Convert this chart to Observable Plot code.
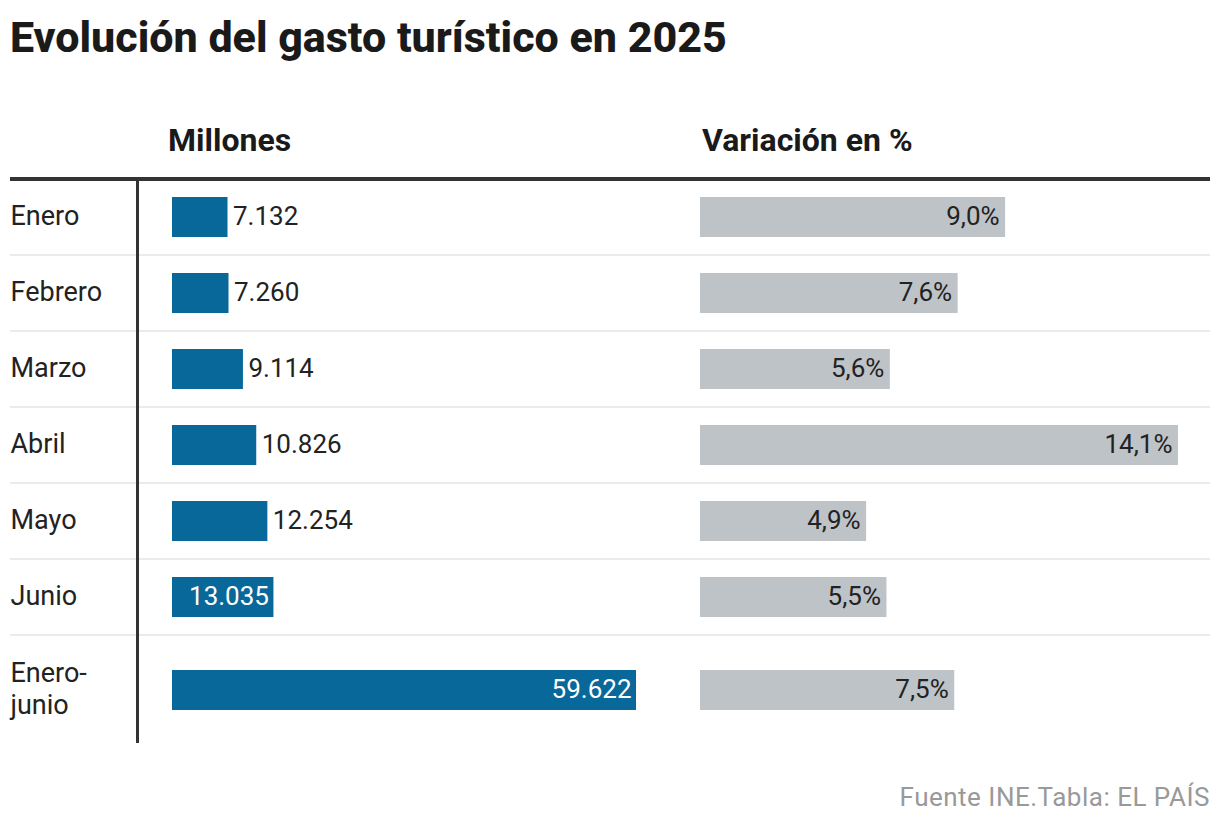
<!DOCTYPE html>
<html>
<head>
<meta charset="utf-8">
<script src="https://cdn.jsdelivr.net/npm/d3@7"></script>
<script src="https://cdn.jsdelivr.net/npm/@observablehq/plot@0.6"></script>
<style>
  body { margin: 0; background: #fff; font-family: Roboto, "Noto Sans", sans-serif; }
  #wrap { position: relative; width: 1220px; height: 828px; overflow: hidden; background: #fff; }
  .title { position: absolute; left: 10px; top: 16px; font-size: 43px; line-height: 43px; font-weight: 800; color: #1a1a1a; white-space: nowrap; }
  .head { position: absolute; top: 124px; font-size: 32px; line-height: 32px; font-weight: 700; color: #1a1a1a; white-space: nowrap; }
  .source { position: absolute; right: 10px; top: 784px; font-size: 26px; line-height: 26px; letter-spacing: 0.5px; color: #999; white-space: nowrap; }
</style>
</head>
<body>
<div id="wrap"></div>
<script>
// ---- data ----
const titleText = "Evolución del gasto turístico en 2025";
const headers = ["Millones", "Variación en %"];
const sourceText = "Fuente INE.Tabla: EL PAÍS";
const categories = ["Enero", "Febrero", "Marzo", "Abril", "Mayo", "Junio", "Enero-junio"];
const gasto = [7132, 7260, 9114, 10826, 12254, 13035, 59622];
const variacion = [9.0, 7.6, 5.6, 14.1, 4.9, 5.5, 7.5];

// ---- build ----
const loc = d3.formatLocale({decimal: ",", thousands: ".", grouping: [3], currency: ["", "€"]});
const fmtInt = loc.format(",d");
const fmtPct = loc.format(".1f");

const rows = categories.map((label, i) => ({
  label, value: gasto[i], pct: variacion[i], total: i === categories.length - 1
}));
const months = rows.filter(d => !d.total);
const totals = rows.filter(d => d.total);
const TOTAL_DY = 17;

const BLUE = "#08689a";
const GRAY = "#bec3c7";
const TEXT = "#222";
const DARK = "#333";
const SEP = "#ebebeb";

const wrap = document.getElementById("wrap");
function addDiv(cls, text, style) {
  const d = document.createElement("div");
  d.className = cls; d.textContent = text;
  Object.assign(d.style, style || {});
  wrap.appendChild(d);
}
addDiv("title", titleText);
addDiv("head", headers[0], {left: "168px"});
addDiv("head", headers[1], {left: "702px"});
addDiv("source", sourceText);

const common = {
  height: 590,
  marginTop: 19,
  marginBottom: 39,
  style: {fontFamily: "Roboto, 'Noto Sans', sans-serif", fontSize: "26px", background: "none", overflow: "visible"}
};

function structure(insetLeft, insetRight) {
  return [
    Plot.cell(rows.slice(0, rows.length - 1), {y: "label", fill: SEP, insetTop: 75, insetBottom: -1, insetLeft, insetRight}),
    Plot.cell(rows.slice(0, 1), {y: "label", fill: DARK, insetTop: -2, insetBottom: 74, insetLeft, insetRight})
  ];
}

// Left plot: labels + gasto (millones)
const maxG = d3.max(gasto);
const inside = d => d.value >= 13000;
const leftMarks = (data, dy) => [
  Plot.barX(data, {x: "value", y: "label", fill: BLUE, insetTop: 18, insetBottom: 18, dy}),
  Plot.text(data.filter(d => !inside(d)), {x: "value", y: "label", text: d => fmtInt(d.value), textAnchor: "start", dx: 5, dy: dy - 1, fill: TEXT, fontSize: 26}),
  Plot.text(data.filter(inside), {x: "value", y: "label", text: d => fmtInt(d.value), textAnchor: "end", dx: -5, dy: dy - 1, fill: "#fff", fontSize: 26}),
  Plot.text(data, {y: "label", text: d => d.label.replace("-", "-\n"), frameAnchor: "left", textAnchor: "start", dx: -162, dy: dy - 3, fill: TEXT, fontSize: 27, lineHeight: 1.2})
];
const left = Plot.plot({
  ...common,
  width: 690,
  marginLeft: 172,
  marginRight: 54,
  x: {domain: [0, maxG], axis: null},
  y: {type: "band", domain: categories, padding: 0, axis: null},
  marks: [
    ...structure(-162, -54),
    Plot.ruleX([0], {stroke: DARK, strokeWidth: 3, dx: -35, insetTop: 0, insetBottom: -32}),
    ...leftMarks(months, 0),
    ...leftMarks(totals, TOTAL_DY)
  ]
});
left.style.position = "absolute";
left.style.left = "0px";
left.style.top = "160px";
wrap.appendChild(left);

// Right plot: variación %
const maxP = d3.max(variacion);
const rightMarks = (data, dy) => [
  Plot.barX(data, {x: "pct", y: "label", fill: GRAY, insetTop: 18, insetBottom: 18, dy}),
  Plot.text(data, {x: "pct", y: "label", text: d => fmtPct(d.pct) + "%", textAnchor: "end", dx: -6, dy: dy - 1, fill: TEXT, fontSize: 26})
];
const right = Plot.plot({
  ...common,
  width: 530,
  marginLeft: 10,
  marginRight: 42,
  x: {domain: [0, maxP], axis: null},
  y: {type: "band", domain: categories, padding: 0, axis: null},
  marks: [
    ...structure(-10, -32),
    ...rightMarks(months, 0),
    ...rightMarks(totals, TOTAL_DY)
  ]
});
right.style.position = "absolute";
right.style.left = "690px";
right.style.top = "160px";
wrap.appendChild(right);
</script>
</body>
</html>
